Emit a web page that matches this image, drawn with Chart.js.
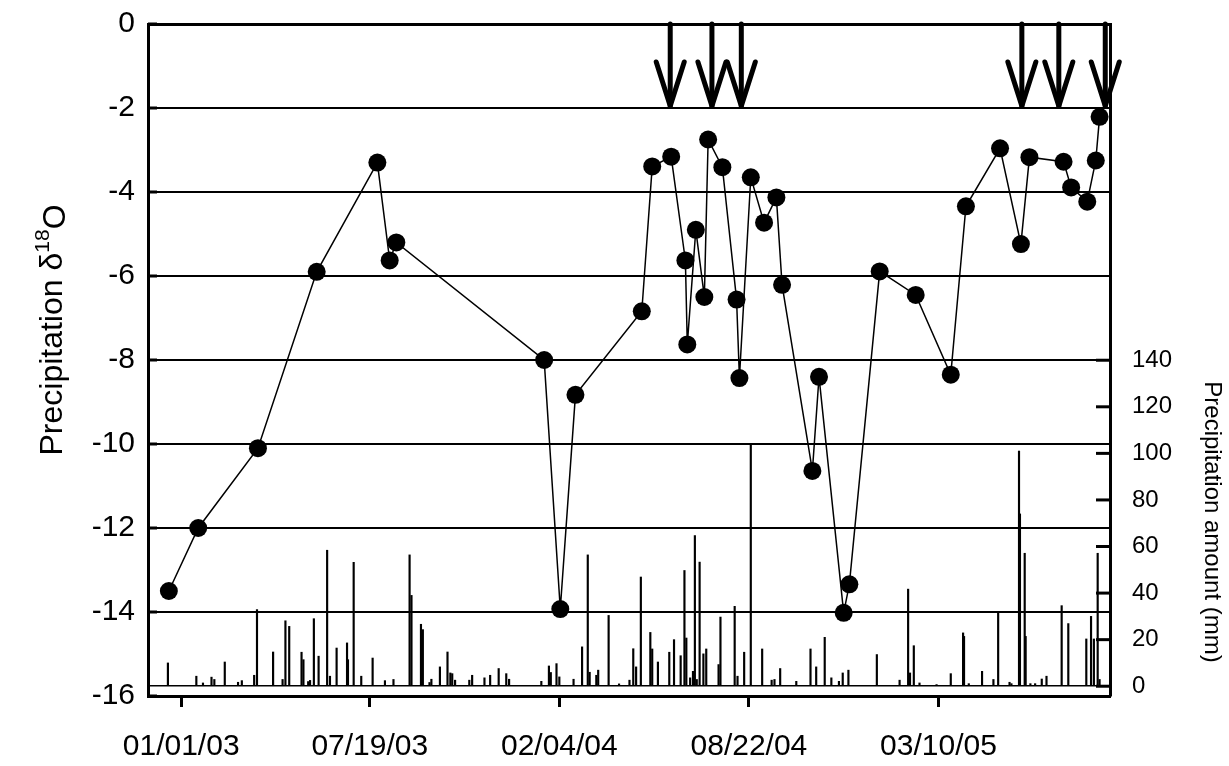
<!DOCTYPE html>
<html>
<head>
<meta charset="utf-8">
<title>Precipitation isotopes and rainfall</title>
<script src="https://cdn.jsdelivr.net/npm/chart.js@4.4.1/dist/chart.umd.min.js"></script>
<style>
    html, body { margin: 0; padding: 0; background: #fff; }
    #wrap { width: 1229px; height: 766px; }
</style>
</head>
<body>
<div id="wrap"><canvas id="isoChart" width="1229" height="766"></canvas></div>
<script>
/* ========================================
   Precipitation d18O vs daily rainfall
   x values are days counted from 01/01/03
   ======================================== */

// date ticks on the bottom axis
const tickDays = [0, 199, 399, 599, 799];
const tickLabels = ['01/01/03', '07/19/03', '02/04/04', '08/22/04', '03/10/05'];

// isotope samples (left axis)
const isoDays = [-13, 18, 81, 143, 207, 220, 227, 383, 400, 416, 486, 497, 517, 532, 534, 543,
    552, 556, 571, 586, 589, 601, 615, 628, 634, 666, 673, 699, 705, 737, 775, 812, 828, 864,
    886, 895, 931, 939, 956, 965, 969];
const isoValues = [-13.5, -12.0, -10.1, -5.9, -3.3, -5.63, -5.2, -8.0, -13.93, -8.83, -6.84, -3.39,
    -3.16, -5.63, -7.63, -4.9, -6.5, -2.75, -3.41, -6.56, -8.43, -3.65, -4.73, -4.13, -6.21,
    -10.64, -8.4, -14.02, -13.34, -5.89, -6.45, -8.35, -4.34, -2.96, -5.24, -3.17, -3.28, -3.89,
    -4.23, -3.25, -2.21];

// daily precipitation (right axis, mm)
const rainDays = [-14, 16, 23, 32, 35, 46, 60, 64, 77, 80, 97, 107, 110, 114, 127, 129, 134, 136,
    140, 145, 154, 157, 164, 175, 176, 182, 190, 202, 215, 224,
    241, 243, 253, 255, 262, 264, 273, 281, 284, 286, 289, 304, 307, 320, 326, 335, 343, 346,
    380, 388, 390, 396, 399, 414, 423, 429, 431, 438, 440, 451, 462, 473, 477, 480,
    485, 495, 497, 503, 515, 520, 527, 531, 533, 537, 540, 542, 544, 547, 551, 554, 567, 569,
    584, 587, 594, 601, 613, 623, 626, 632, 649, 664, 670, 679, 686, 694, 698, 704, 734,
    758, 767, 769, 773, 779, 797, 812, 825, 826, 831, 845, 857, 862, 874, 876, 884, 885, 890,
    891, 896, 901, 908, 913, 929, 936, 955, 960, 963, 967, 969];
const rainMm = [10, 4.3, 1.4, 3.9, 2.9, 10.4, 1.7, 2.4, 4.7, 32.9, 14.7, 2.9, 28.1, 25.7, 14.6, 11.4, 2, 2.5,
    29, 12.9, 58.4, 4.3, 16.4, 18.6, 11.4, 53.2, 4.3, 12.1, 2.4, 2.9,
    56.4, 39, 26.6, 24.3, 1.6, 3, 8.3, 14.7, 5.7, 5.4, 2.6, 2.6, 4.7, 3.6, 4.7, 7.6, 5.4, 3,
    2.1, 8.7, 5.9, 9.7, 4, 3, 16.9, 56.4, 6, 4.7, 6.9, 30.4, 1, 2.6, 16.1, 8.3,
    46.9, 23.1, 16, 10.4, 14.6, 20, 13.1, 49.7, 20.7, 3.6, 6.4, 64.7, 2.9, 53.3, 13.9, 16, 9.3, 29.7,
    34.3, 4.3, 14.6, 104.3, 16, 2.6, 2.9, 7.6, 2.1, 16, 8.3, 21, 3.6, 2.1, 5.7, 6.9, 13.6,
    2.6, 41.7, 5.7, 17.4, 1.4, 0.7, 5.4, 22.9, 21.4, 1.1, 6.4, 2.9, 31.4, 1.7, 1.1, 101, 74, 57.1,
    21.4, 1.1, 1.1, 3.1, 4.3, 34.6, 26.9, 20.3, 30, 20.3, 57.1, 2.9];

// right axis labels
const rainTicks = [0, 20, 40, 60, 80, 100, 120, 140];

// sampling campaigns marked with arrows
const arrowDays = [516, 560, 591, 887, 926, 975];

const FONT = '"Liberation Sans", Arial, Helvetica, sans-serif';

const isoPoints = isoDays.map((d, i) => ({ x: d, y: isoValues[i] }));
const rainPoints = rainDays.map((d, i) => ({ x: d, y: rainMm[i] }));

// vertical axes: fixed width, no extra room reserved for half labels
function fixWidth(w) {
    return scale => {
        scale.width = w;
        scale.paddingTop = 0;
        scale.paddingBottom = 0;
    };
}

// axis titles, inner tick marks and the arrows
const decorPlugin = {
    id: 'decor',
    afterDraw(chart) {
        const ctx = chart.ctx;
        const area = chart.chartArea;
        const xs = chart.scales.x;
        const ys = chart.scales.y;
        const y2 = chart.scales.y2;

        ctx.save();
        ctx.strokeStyle = '#000';
        ctx.fillStyle = '#000';
        ctx.lineWidth = 3;

        // inner ticks, left axis
        ys.ticks.forEach(t => {
            const py = ys.getPixelForValue(t.value);
            ctx.beginPath();
            ctx.moveTo(area.left, py);
            ctx.lineTo(area.left + 9, py);
            ctx.stroke();
        });
        // inner ticks, right axis
        rainTicks.forEach(v => {
            const py = y2.getPixelForValue(v);
            ctx.beginPath();
            ctx.moveTo(area.right - 14, py);
            ctx.lineTo(area.right, py);
            ctx.stroke();
        });

        // arrows
        ctx.lineWidth = 5;
        ctx.lineCap = 'round';
        ctx.lineJoin = 'round';
        const tipY = ys.getPixelForValue(-2);
        arrowDays.forEach(d => {
            const px = xs.getPixelForValue(d);
            ctx.beginPath();
            ctx.moveTo(px, area.top);
            ctx.lineTo(px, tipY - 2);
            ctx.stroke();
            ctx.beginPath();
            ctx.moveTo(px - 14, tipY - 46);
            ctx.lineTo(px, tipY - 2);
            ctx.lineTo(px + 14, tipY - 46);
            ctx.stroke();
        });

        // left title with superscript
        ctx.save();
        ctx.translate(62, 330);
        ctx.rotate(-Math.PI / 2);
        ctx.textBaseline = 'alphabetic';
        const big = '32px ' + FONT;
        const small = '21px ' + FONT;
        const parts = [
            { t: 'Precipitation \u03B4', f: big, dy: 0 },
            { t: '18', f: small, dy: -13 },
            { t: 'O', f: big, dy: 3 }
        ];
        let total = 0;
        parts.forEach(p => { ctx.font = p.f; p.w = ctx.measureText(p.t).width; total += p.w; });
        let cx = -total / 2;
        parts.forEach(p => {
            ctx.font = p.f;
            ctx.fillText(p.t, cx, p.dy);
            cx += p.w;
        });
        ctx.restore();

        // right title
        ctx.save();
        ctx.translate(1212, 522);
        ctx.rotate(Math.PI / 2);
        ctx.font = '24px ' + FONT;
        ctx.textAlign = 'center';
        ctx.textBaseline = 'middle';
        ctx.fillText('Precipitation amount (mm)', 0, 0);
        ctx.restore();

        ctx.restore();
    }
};

new Chart(document.getElementById('isoChart'), {
    type: 'bar',
    data: {
        datasets: [{
            type: 'line',
            label: 'd18O',
            data: isoPoints,
            yAxisID: 'y',
            order: 0,
            borderColor: '#000',
            borderWidth: 1.5,
            pointRadius: 9,
            pointBackgroundColor: '#000',
            pointBorderWidth: 0,
            tension: 0
        }, {
            type: 'bar',
            label: 'Precipitation',
            data: rainPoints,
            yAxisID: 'y2',
            order: 1,
            backgroundColor: '#000',
            barThickness: 1.5
        }]
    },
    options: {
        animation: false,
        responsive: false,
        events: [],
        layout: { padding: { top: 24, left: 0, right: 0, bottom: 0 } },
        plugins: {
            legend: { display: false },
            tooltip: { enabled: false }
        },
        scales: {
            x: {
                type: 'linear',
                position: 'bottom',
                offset: false,
                min: -35,
                max: 980,
                afterBuildTicks: scale => { scale.ticks = tickDays.map(v => ({ value: v })); },
                afterFit: scale => {
                    scale.height = 70;
                    scale.paddingLeft = 0;
                    scale.paddingRight = 0;
                },
                ticks: {
                    autoSkip: false,
                    maxRotation: 0,
                    color: '#000',
                    padding: 22,
                    font: { family: FONT, size: 30 },
                    callback: value => tickLabels[tickDays.indexOf(value)]
                },
                grid: {
                    offset: false,
                    drawOnChartArea: false,
                    drawTicks: true,
                    tickLength: 11,
                    tickWidth: 3,
                    color: '#000'
                },
                border: { display: true, color: '#000', width: 3 }
            },
            y: {
                position: 'left',
                min: -16,
                max: 0,
                afterFit: fixWidth(148),
                ticks: {
                    stepSize: 2,
                    color: '#000',
                    padding: 13,
                    font: { family: FONT, size: 30 },
                    callback: value => String(value)
                },
                grid: {
                    color: '#000',
                    lineWidth: c => (c.tick && c.tick.value === 0 ? 3 : 2),
                    drawTicks: false
                },
                border: { display: true, color: '#000', width: 3 }
            },
            y2: {
                position: 'right',
                min: -4.2,
                max: 284.4,
                afterBuildTicks: scale => { scale.ticks = rainTicks.map(v => ({ value: v })); },
                afterFit: fixWidth(119),
                ticks: {
                    color: '#000',
                    padding: 22,
                    font: { family: FONT, size: 24 },
                    callback: value => String(value)
                },
                grid: {
                    drawOnChartArea: true,
                    drawTicks: false,
                    color: c => (c.tick && c.tick.value === 0 ? '#000' : 'rgba(0,0,0,0)'),
                    lineWidth: 1.5
                },
                border: { display: true, color: '#000', width: 3 }
            }
        }
    },
    plugins: [decorPlugin]
});
</script>
</body>
</html>
